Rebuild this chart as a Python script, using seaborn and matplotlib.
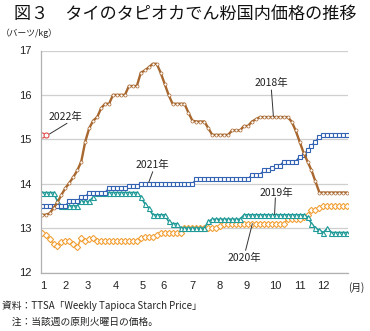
import matplotlib
matplotlib.use("Agg")
import matplotlib.pyplot as plt
import seaborn as sns
import numpy as np
import pandas as pd

sns.set_theme(style="white")
plt.rcParams['font.family'] = ['Noto Sans CJK JP', 'DejaVu Sans']

# ---- data ----
y2018 = [13.3, 13.3, 13.33, 13.45, 13.58, 13.75, 13.9, 14.02, 14.15, 14.3,
         14.5, 14.95, 15.25, 15.42, 15.5, 15.7, 15.8, 15.8, 16.0, 16.0,
         16.0, 16.0, 16.2, 16.2, 16.2, 16.5, 16.55, 16.62, 16.7, 16.7,
         16.5, 16.25, 16.0, 15.8, 15.8, 15.8, 15.8, 15.6, 15.42, 15.4,
         15.4, 15.4, 15.25, 15.1, 15.1, 15.1, 15.1, 15.1, 15.2, 15.2,
         15.2, 15.3, 15.3, 15.4, 15.45, 15.5, 15.5, 15.5, 15.5, 15.5,
         15.5, 15.5, 15.5, 15.4, 15.2, 14.95, 14.7, 14.5, 14.3, 14.05,
         13.8, 13.8, 13.8, 13.8, 13.8, 13.8, 13.8, 13.8]
y2019 = [13.8, 13.8, 13.8, 13.8, 13.6, 13.5, 13.5, 13.5, 13.5, 13.5,
         13.6, 13.6, 13.6, 13.7, 13.8, 13.8, 13.8, 13.8, 13.8, 13.8,
         13.8, 13.8, 13.8, 13.8, 13.8, 13.7, 13.55, 13.45, 13.3, 13.3,
         13.3, 13.3, 13.15, 13.1, 13.1, 13.0, 13.0, 13.0, 13.0, 13.0,
         13.0, 13.0, 13.15, 13.2, 13.2, 13.2, 13.2, 13.2, 13.2, 13.2,
         13.2, 13.3, 13.3, 13.3, 13.3, 13.3, 13.3, 13.3, 13.3, 13.3,
         13.3, 13.3, 13.3, 13.3, 13.3, 13.3, 13.3, 13.25, 13.1, 13.0,
         12.95, 12.9, 13.0, 12.9, 12.9, 12.9, 12.9, 12.9]
y2020 = [12.9, 12.85, 12.75, 12.65, 12.6, 12.68, 12.72, 12.72, 12.65, 12.57,
         12.78, 12.7, 12.75, 12.78, 12.7, 12.7, 12.7, 12.7, 12.7, 12.7,
         12.7, 12.7, 12.7, 12.7, 12.72, 12.78, 12.8, 12.8, 12.8, 12.85,
         12.9, 12.9, 12.9, 12.9, 12.9, 12.9, 13.0, 13.0, 13.0, 13.0,
         13.0, 13.0, 13.0, 13.0, 13.0, 13.05, 13.1, 13.1, 13.1, 13.1,
         13.1, 13.1, 13.1, 13.1, 13.1, 13.1, 13.1, 13.1, 13.1, 13.1,
         13.1, 13.1, 13.2, 13.2, 13.2, 13.2, 13.25, 13.3, 13.4, 13.4,
         13.45, 13.5, 13.5, 13.5, 13.5, 13.5, 13.5, 13.5]
y2021 = [13.5, 13.5, 13.5, 13.5, 13.5, 13.5, 13.5, 13.6, 13.6, 13.6,
         13.7, 13.7, 13.8, 13.8, 13.8, 13.8, 13.8, 13.9, 13.9, 13.9,
         13.9, 13.9, 13.95, 13.95, 13.95, 14.0, 14.0, 14.0, 14.0, 14.0,
         14.0, 14.0, 14.0, 14.0, 14.0, 14.0, 14.0, 14.0, 14.0, 14.1,
         14.1, 14.1, 14.1, 14.1, 14.1, 14.1, 14.1, 14.1, 14.1, 14.1,
         14.1, 14.1, 14.1, 14.2, 14.2, 14.2, 14.3, 14.3, 14.35, 14.4,
         14.4, 14.5, 14.5, 14.5, 14.5, 14.6, 14.65, 14.75, 14.85, 14.95,
         15.05, 15.1, 15.1, 15.1, 15.1, 15.1, 15.1, 15.1]
y2022 = [15.1, 15.1]

month_labels = ["1", "2", "3", "4", "5", "6", "7", "8", "9", "10", "11", "12"]
month_pos = [0.5, 6.0, 11.6, 18.6, 25.4, 30.7, 38.0, 44.8, 51.6, 58.9, 65.2, 71.0]
y_ticks = [12, 13, 14, 15, 16, 17]

# ---- figure ----
W, H = 370, 331
fig = plt.figure(figsize=(W / 100, H / 100), dpi=100)
ax = fig.add_axes([41 / W, 1 - 272.5 / H, (348 - 41) / W, (272.5 - 50.5) / H])

def draw(vals, color, marker, ms, lw, mew):
    x = np.arange(len(vals))
    sns.lineplot(x=x, y=vals, ax=ax, color=color, marker=marker, markersize=ms,
                 markerfacecolor="white", markeredgecolor=color, markeredgewidth=mew,
                 linewidth=lw, legend=False)

draw(y2020, "#F2A23A", "D", 3.2, 1.2, 0.8)
draw(y2019, "#1F9A98", "^", 3.6, 1.2, 0.8)
draw(y2021, "#3363B2", "s", 3.3, 1.2, 0.8)
draw(y2018, "#A8672E", "o", 2.2, 1.7, 0.5)
draw(y2022, "#E24A4A", "o", 3.6, 1.2, 0.8)

ax.set_xlim(-0.15, 77.2)
ax.set_ylim(12, 17)
ax.set_yticks(y_ticks)
ax.set_yticklabels([str(v) for v in y_ticks], fontsize=8, family=['Liberation Sans', 'DejaVu Sans'])
ax.set_xticks(month_pos)
ax.set_xticklabels(month_labels, fontsize=8, family=['Liberation Sans', 'DejaVu Sans'])
ax.set_xticks(np.arange(0, 78, 1), minor=True)
ax.tick_params(axis='x', which='major', length=0, pad=6, colors='#222222')
ax.tick_params(axis='x', which='minor', length=2.2, width=0.6, color='#A0A0A0', direction='out')
ax.tick_params(axis='y', which='major', length=0, pad=7, colors='#222222')
ax.grid(axis='y', color='#CFCFCF', linewidth=0.9)
ax.set_axisbelow(True)
for s in ['top', 'right']:
    ax.spines[s].set_visible(False)
for s in ['left', 'bottom']:
    ax.spines[s].set_color('#B0B0B0')
    ax.spines[s].set_linewidth(0.9)
ax.set_xlabel("")
ax.set_ylabel("")

# annotations
def lab(text, xy_text, xy_from, xy_to):
    ax.text(xy_text[0], xy_text[1], text, fontsize=7.5, ha='center', va='center', color='#222222')
    ax.plot([xy_from[0], xy_to[0]], [xy_from[1], xy_to[1]], color='#333333', linewidth=0.7)

lab("2022年", (6.0, 15.5), (6.4, 15.36), (2.0, 15.12))
lab("2018年", (57.9, 16.27), (57.9, 16.11), (58.4, 15.52))
lab("2021年", (28.0, 14.42), (28.0, 14.27), (27.0, 14.03))
lab("2019年", (59.2, 13.8), (58.9, 13.68), (58.7, 13.31))
lab("2020年", (51.1, 12.32), (51.4, 12.5), (53.1, 13.1))

# texts outside axes
fig.text(14 / W, 1 - 14 / H, "図３　タイのタピオカでん粉国内価格の推移", fontsize=12.3,
         ha='left', va='center', color='#111111')
fig.text(1 / W, 1 - 33 / H, "（バーツ/kg）", fontsize=6.3, ha='left', va='center', color='#222222')
fig.text(356 / W, 1 - 288 / H, "(月)", fontsize=7, ha='center', va='center', color='#222222')
fig.text(2 / W, 1 - 306 / H, "資料：TTSA「Weekly Tapioca Starch Price」", fontsize=7,
         ha='left', va='center', color='#222222')
fig.text(2 / W, 1 - 322 / H, "　注：当該週の原則火曜日の価格。", fontsize=7,
         ha='left', va='center', color='#222222')

fig.savefig("out.png", dpi=100)
